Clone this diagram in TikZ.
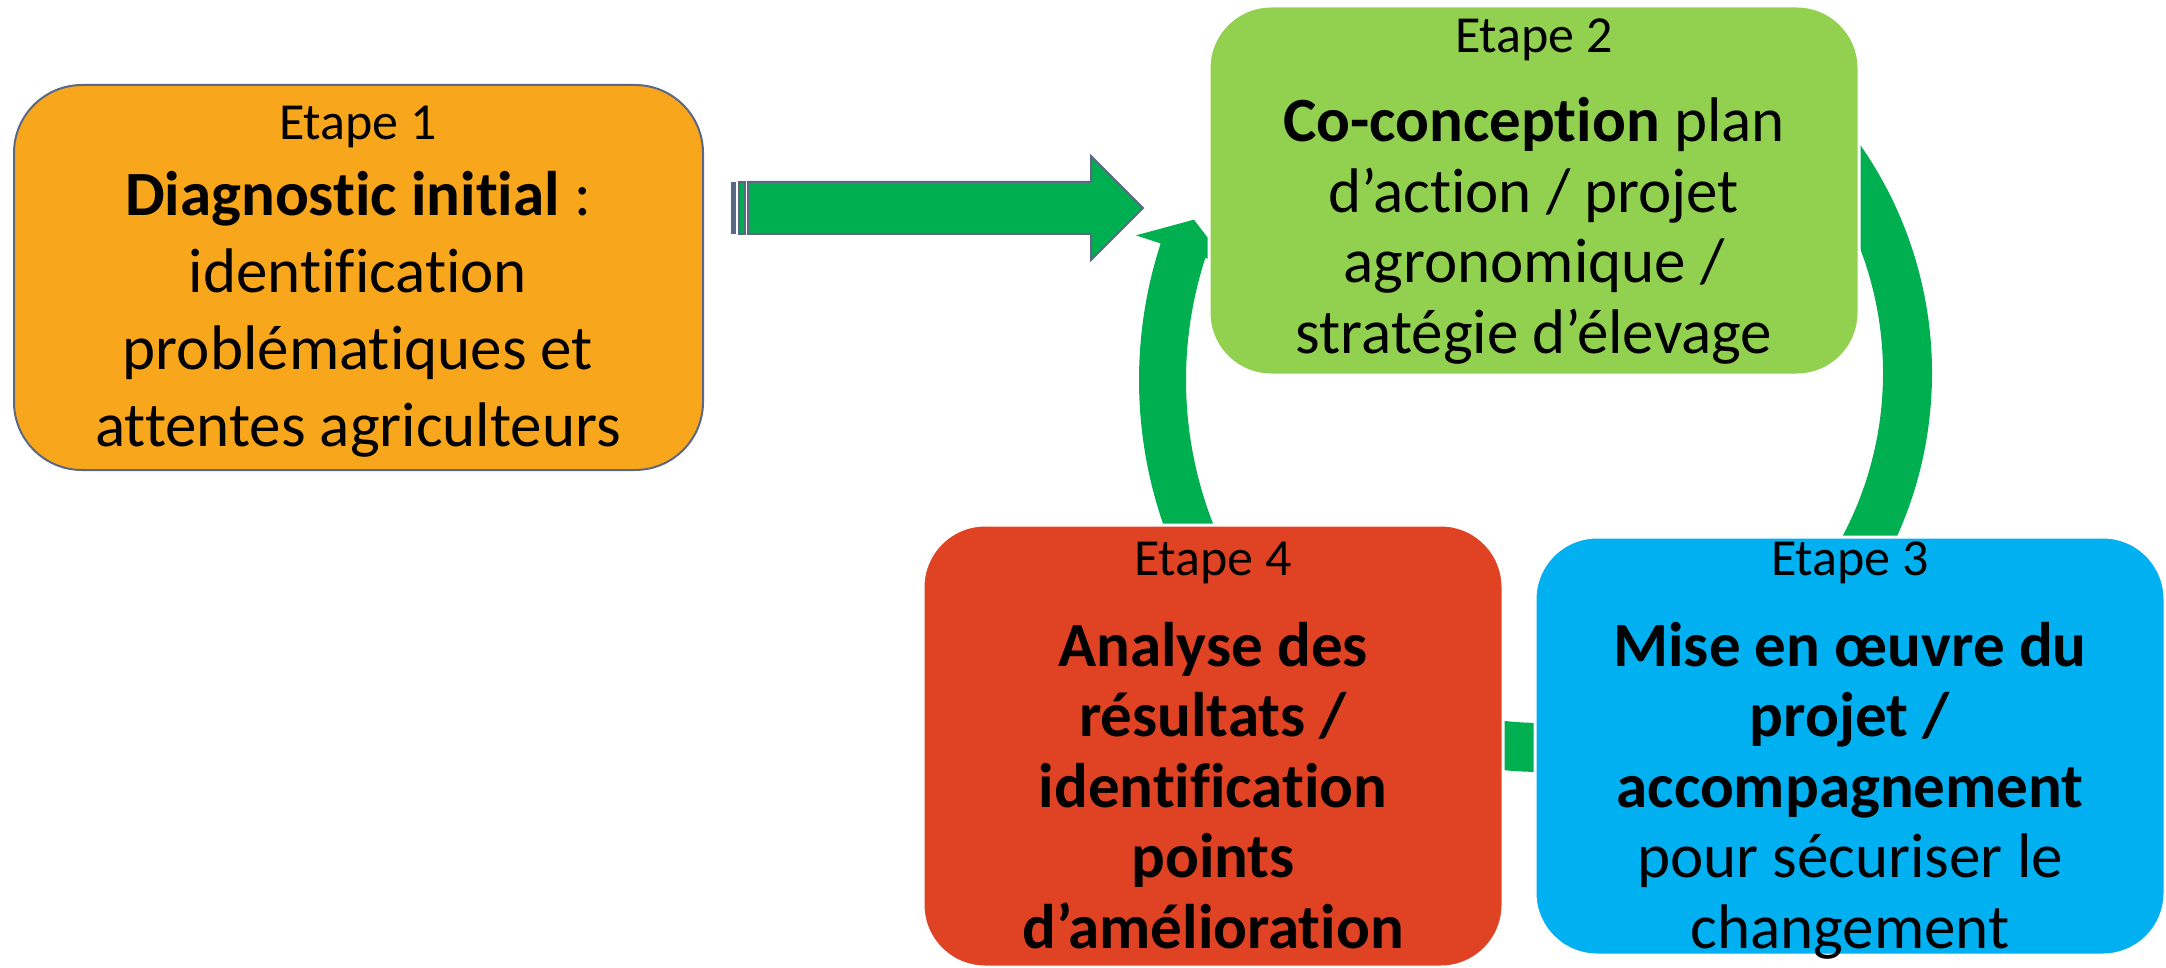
\documentclass[tikz,border=0pt]{standalone}
\usepackage{fontspec}
\setmainfont[Ligatures=NoCommon]{Carlito}
\usepackage{xcolor}
\usepackage{tikz}
\usetikzlibrary{positioning}

\definecolor{orangebox}{RGB}{248,166,28}
\definecolor{greenbox}{RGB}{146,208,80}
\definecolor{bluebox}{RGB}{0,176,240}
\definecolor{redbox}{RGB}{224,67,36}
\definecolor{arrowgreen}{RGB}{0,176,80}
\definecolor{boxline}{RGB}{90,104,134}

\begin{document}
\begin{tikzpicture}[x=0.5pt, y=-0.5pt,
        stepbox/.style={rectangle, rounded corners=31pt, inner sep=0pt,
            draw=white, line width=1.5pt},
        headtxt/.style={anchor=base, inner sep=0pt,
            font=\fontsize{26}{31}\selectfont},
        bodytxt/.style={anchor=base, inner sep=0pt, align=center,
            font=\fontsize{31.5}{35.2}\selectfont}]
        \useasboundingbox (0, 0) rectangle (2166, 968);

        % cycle arrows (behind the boxes)
        \coordinate (cl) at (1581, 380);
        \coordinate (cr) at (1534, 373);
        \coordinate (cb) at (1542, 377);
        \fill[arrowgreen] ([shift={(cl)}]155:395)
            arc[start angle=155, end angle=198, radius=395]
            -- ([shift={(cl)}]198:370) -- ([shift={(cl)}]202.5:419)
            -- ([shift={(cl)}]198:468) -- ([shift={(cl)}]198:442)
            arc[start angle=198, end angle=155, radius=442] -- cycle;
        \fill[arrowgreen] ([shift={(cr)}]-45:349)
            arc[start angle=-45, end angle=35, radius=349]
            -- ([shift={(cr)}]35:398)
            arc[start angle=35, end angle=-45, radius=398] -- cycle;
        \fill[arrowgreen] ([shift={(cb)}]60:346)
            arc[start angle=60, end angle=120, radius=346]
            -- ([shift={(cb)}]120:395)
            arc[start angle=120, end angle=60, radius=395] -- cycle;

        % striped arrow from step 1 to step 2
        \fill[boxline] (731, 182) rectangle (736, 234);
        \filldraw[fill=arrowgreen, draw=boxline, line width=1pt]
            (739, 182) rectangle (745, 234);
        \filldraw[fill=arrowgreen, draw=boxline, line width=1pt]
            (748, 182) -- (1091, 182) -- (1091, 156) -- (1143, 208)
            -- (1091, 260) -- (1091, 234) -- (748, 234) -- cycle;

        % steps
        \node[stepbox, fill=orangebox, draw=boxline, line width=1pt,
            rounded corners=34pt, minimum width=344.5pt,
            minimum height=192.5pt] (s1) at (358.5, 277.5) {};
        \node[stepbox, fill=greenbox, minimum width=325pt,
            minimum height=184.5pt] (s2) at (1534, 190.5) {};
        \node[stepbox, fill=bluebox, minimum width=315pt,
            minimum height=209pt] (s3) at (1850, 746) {};
        \node[stepbox, fill=redbox, minimum width=290pt,
            minimum height=221pt] (s4) at (1213, 746) {};

        % texts (base = last line)
        \node[headtxt] (h1) at (358, 140) {Etape 1};
        \node[bodytxt, font=\fontsize{31.5}{38.5}\selectfont] (b1)
            at (358, 446) {\textbf{Diagnostic initial} :\\identification\\
            problématiques et\\attentes agriculteurs};

        \node[headtxt] (h2) at (1534, 53) {Etape 2};
        \node[bodytxt] (b2) at (1534, 353)
            {\textbf{Co-conception} plan\\d’action / projet\\agronomique /\\
            stratégie d’élevage};

        \node[headtxt] (h3) at (1850, 575) {Etape 3};
        \node[bodytxt] (b3) at (1850, 948)
            {\textbf{Mise en œuvre du}\\\textbf{projet /}\\
            \textbf{accompagnement}\\pour sécuriser le\\changement};

        \node[headtxt] (h4) at (1213, 575) {Etape 4};
        \node[bodytxt, font=\bfseries\fontsize{31.5}{35.2}\selectfont] (b4)
            at (1213, 948) {Analyse des\\résultats /\\identification\\
            points\\d’amélioration};
    \end{tikzpicture}
\end{document}
